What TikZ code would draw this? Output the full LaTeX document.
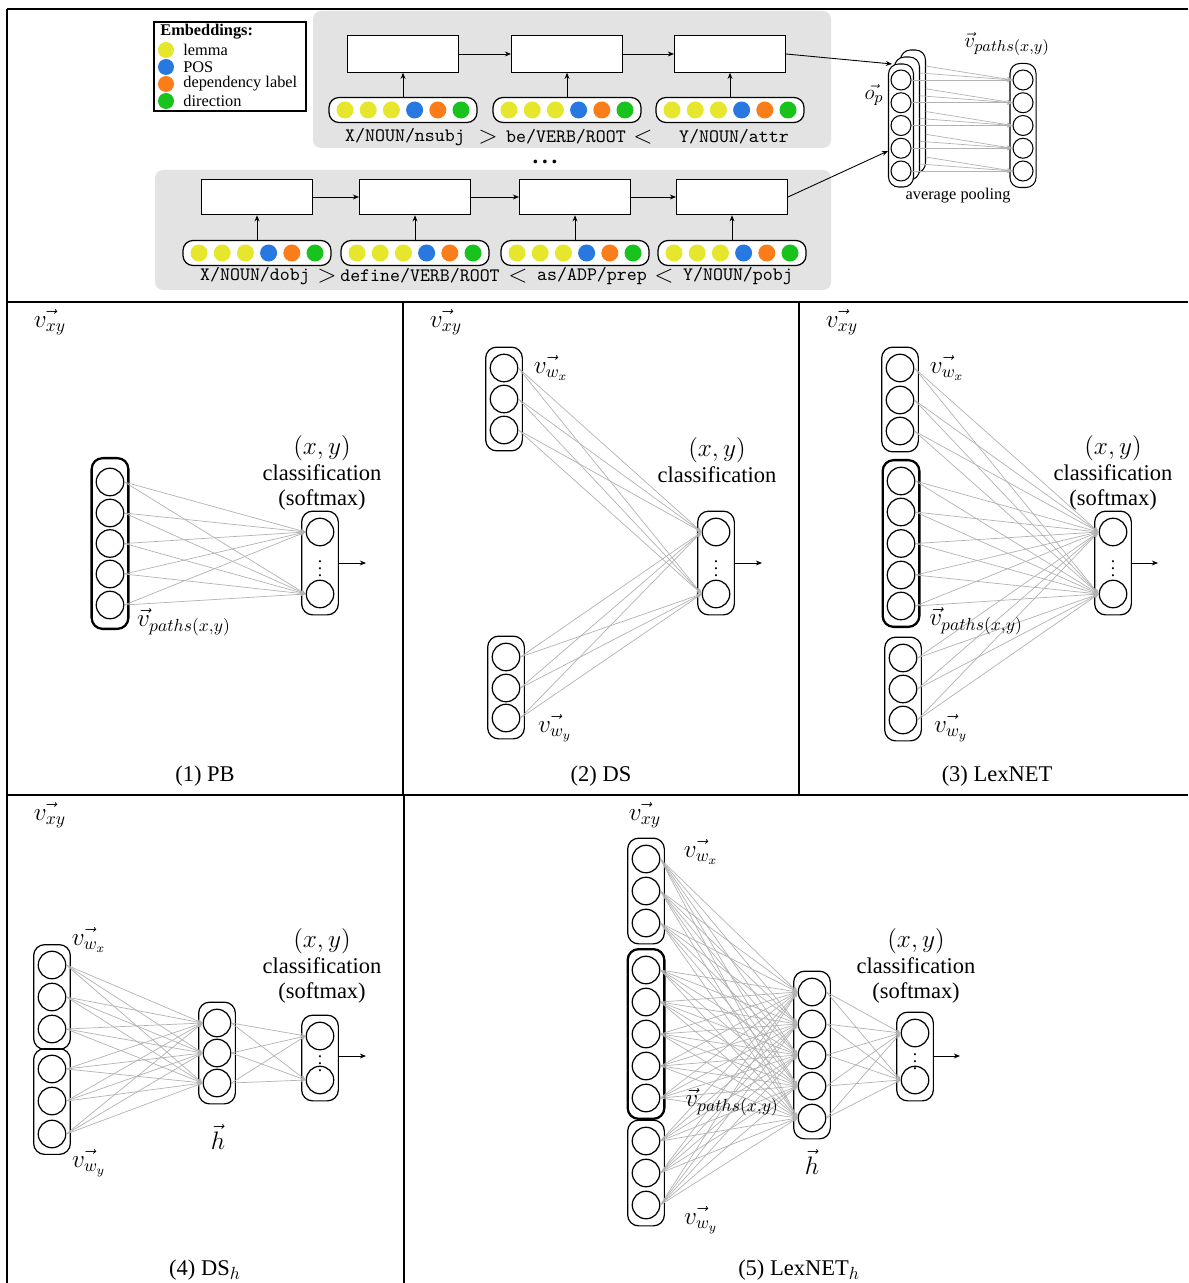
\documentclass[tikz,border=0pt]{standalone}
\usepackage{fontspec}
\setmainfont{Liberation Serif}
\usepackage{amsmath}
\usetikzlibrary{arrows.meta,positioning,fit,calc}
\definecolor{lemmac}{RGB}{230,230,45}
\definecolor{posc}{RGB}{40,120,225}
\definecolor{depc}{RGB}{250,125,25}
\definecolor{dirc}{RGB}{25,195,30}
\DeclareMathSizes{12.8}{13.8}{10.3}{7.5}
\DeclareMathSizes{11.5}{11.5}{9}{7}
\tikzset{
  neuron/.style={circle, draw, line width=0.7pt, minimum size=0.55cm, inner sep=0pt},
  poolneuron/.style={neuron, minimum size=0.4cm, line width=0.6pt},
  layerbox/.style={draw, rounded corners=0.22cm, line width=0.7pt, inner xsep=0.08cm, inner ysep=0.13cm},
  pathbox/.style={layerbox, line width=1.3pt},
  poolbox/.style={draw, fill=white, rounded corners=0.2cm, line width=0.6pt, minimum width=0.5cm, minimum height=2.46cm},
  lstmbox/.style={rectangle, draw, fill=white, line width=0.6pt, minimum width=2.22cm, minimum height=0.73cm},
  pill/.style={rectangle, draw, fill=white, rounded corners=0.2cm, line width=0.7pt, minimum width=2.96cm, minimum height=0.5cm},
  emb/.style={circle, minimum size=0.34cm, inner sep=0pt},
  legendbox/.style={draw, line width=0.6pt, minimum width=3.04cm, minimum height=1.78cm},
  seqbg/.style={fill=gray!22, rounded corners=0.16cm},
  conn/.style={draw=gray!60, line width=0.4pt, -{Stealth[length=3pt, width=2.4pt]}},
  arrow/.style={-{Stealth[length=3.5pt, width=2.8pt]}, line width=0.5pt},
  outarrow/.style={-{Stealth[length=3.5pt, width=2.8pt]}, line width=0.5pt},
  lbl/.style={font=\fontsize{12.8}{14.5}\selectfont, align=center, inner sep=1pt},
  toplbl/.style={font=\fontsize{11.5}{13}\selectfont, inner sep=1pt},
  legtxt/.style={font=\fontsize{9.3}{11}\selectfont, anchor=west, inner sep=0pt},
  tok/.style={font=\ttfamily\fontsize{10.8}{12}\selectfont, inner sep=1pt},
  dotsym/.style={font=\fontsize{10}{10}\selectfont, inner sep=0pt},
  tableline/.style={line width=0.7pt},
}
\begin{document}
\begin{tikzpicture}[x=0.02cm, y=-0.02cm]
  \useasboundingbox (0,0) rectangle (1188,1283);

  % Table rules
  \draw[tableline] (7,9) -- (1188,9);
  \draw[tableline] (7,9) -- (7,1283);
  \draw[tableline] (7,302) -- (1188,302);
  \draw[tableline] (7,795) -- (1188,795);
  \draw[tableline] (403,302) -- (403,795);
  \draw[tableline] (799,302) -- (799,795);
  \draw[tableline, line width=1.2pt] (404,795) -- (404,1283);

  % Path backgrounds
  \fill[seqbg] (313,11) rectangle (831,148);
  \fill[seqbg] (155,170) rectangle (831,290);

  % Legend
  \node[legendbox] (legend) at (230,66.5) {};
  \node[legtxt, font=\bfseries\fontsize{9.3}{11}\selectfont] (legtitle) at (160,32) {Embeddings:};
  \foreach \c/\t [count=\i] in {lemmac/lemma, posc/POS, depc/dependency label, dirc/direction} {
    \node[emb, fill=\c, minimum size=0.32cm] (legdot\i) at (166,33+17*\i) {};
    \node[legtxt] (legitem\i) at (183,33+17*\i) {\t};
  }

  % First path
  \foreach \n/\x in {1/403, 2/567, 3/730} {
    \node[lstmbox] (tbox\n) at (\x,54) {};
    \node[pill] (tpill\n) at (\x,110) {};
    \foreach \c [count=\k] in {lemmac,lemmac,lemmac,posc,depc,dirc}
      \node[emb, fill=\c] (tpill\n-\k) at (\x+23.2*\k-81.2,110) {};
    \draw[arrow] (tpill\n) -- (tbox\n);
  }
  \draw[arrow] (tbox1) -- (tbox2);
  \draw[arrow] (tbox2) -- (tbox3);
  \node[tok] (ttok1) at (405,137) {X/NOUN/nsubj};
  \node[lbl] (tsep1) at (488,137) {$>$};
  \node[tok] (ttok2) at (566,137) {be/VERB/ROOT};
  \node[lbl] (tsep2) at (643,137) {$<$};
  \node[tok] (ttok3) at (734,137) {Y/NOUN/attr};

  \node[lbl, font=\bfseries\fontsize{13}{13}\selectfont] (moredots) at (545,162) {.\,.\,.};

  % Second path
  \foreach \n/\x in {1/257, 2/415, 3/575, 4/732} {
    \node[lstmbox, minimum height=0.71cm] (bbox\n) at (\x,197) {};
    \node[pill] (bpill\n) at (\x,253) {};
    \foreach \c [count=\k] in {lemmac,lemmac,lemmac,posc,depc,dirc}
      \node[emb, fill=\c] (bpill\n-\k) at (\x+23.2*\k-81.2,253) {};
    \draw[arrow] (bpill\n) -- (bbox\n);
  }
  \draw[arrow] (bbox1) -- (bbox2);
  \draw[arrow] (bbox2) -- (bbox3);
  \draw[arrow] (bbox3) -- (bbox4);
  \node[tok] (btok1) at (255,276) {X/NOUN/dobj};
  \node[lbl] (bsep1) at (327,276) {$>$};
  \node[tok] (btok2) at (420,276) {define/VERB/ROOT};
  \node[lbl] (bsep2) at (518,276) {$<$};
  \node[tok] (btok3) at (592,276) {as/ADP/prep};
  \node[lbl] (bsep3) at (664,276) {$<$};
  \node[tok] (btok4) at (738,276) {Y/NOUN/pobj};

  % Average pooling
  \node[poolbox] (pool3) at (913,111.5) {};
  \node[poolbox] (pool2) at (907,118.5) {};
  \node[poolbox] (pool1) at (901,125.5) {};
  \foreach \i in {1,...,5} {
    \node[poolneuron] (pool-c\i) at (901,80+22.75*\i-22.75) {};
    \node[poolneuron] (vp\i) at (1023,80+22.75*\i-22.75) {};
  }
  \node[layerbox, rounded corners=0.2cm, line width=0.6pt, inner xsep=0.05cm, inner ysep=0.12cm, fit=(vp1)(vp5)] (vpbox) {};
  \foreach \i in {1,...,5} {
    \draw[conn] (pool-c\i.east) -- (vp\i.west);
    \draw[conn] ($(pool-c\i.east)+(8,-7)$) -- (vp\i.west);
    \draw[conn] ($(pool-c\i.east)+(14,-14)$) -- (vp\i.west);
  }
  \coordinate (poolin-top) at (892,64);
  \coordinate (poolin-bot) at (888,151);
  \draw[arrow] (tbox3.east) -- (poolin-top);
  \draw[arrow] (bbox4.east) -- (poolin-bot);
  \node[toplbl] (oplbl) at (874,95) {$\vec{o_p}$};
  \node[toplbl] (vplbl) at (1007,44) {$\vec{v}_{paths(x,y)}$};
  \node[legtxt, anchor=center] (poollbl) at (958,196) {average pooling};

  % (1) PB
  \node[lbl] (pb-vxy) at (50,322) {$\vec{v_{xy}}$};
  \foreach \i/\y in {1/482,2/513,3/543.5,4/574,5/605}
    \node[neuron] (pb-p\i) at (110,\y) {};
  \node[pathbox, inner ysep=0.19cm, fit=(pb-p1)(pb-p5)] (pb-P) {};
  \node[neuron] (pb-o1) at (320,532) {};
  \node[neuron] (pb-o2) at (320,594) {};
  \node[dotsym] (pb-dots) at (320,563) {$\vdots$};
  \node[layerbox, fit=(pb-o1)(pb-o2)] (pb-O) {};
  \coordinate (pb-end) at (366,563);
  \draw[outarrow] (pb-O) -- (pb-end);
  \foreach \i in {1,...,5} \foreach \j in {1,2}
    \draw[conn] (pb-p\i.east) -- (pb-o\j.west);
  \node[lbl] (pb-cls) at (322,473) {$(x,y)$\\classification\\(softmax)};
  \node[lbl] (pb-vp) at (184,622) {$\vec{v}_{paths(x,y)}$};
  \node[lbl] (pb-title) at (205,776) {(1) PB};

  % (2) DS
  \node[lbl] (ds-vxy) at (446,322) {$\vec{v_{xy}}$};
  \foreach \i/\y in {1/368,2/399,3/430}
    \node[neuron] (ds-wx\i) at (504,\y) {};
  \foreach \i/\y in {1/657,2/688,3/718}
    \node[neuron] (ds-wy\i) at (506,\y) {};
  \node[layerbox, fit=(ds-wx1)(ds-wx3)] (ds-WX) {};
  \node[layerbox, fit=(ds-wy1)(ds-wy3)] (ds-WY) {};
  \node[neuron] (ds-o1) at (716,532) {};
  \node[neuron] (ds-o2) at (716,594) {};
  \node[dotsym] (ds-dots) at (716,563) {$\vdots$};
  \node[layerbox, fit=(ds-o1)(ds-o2)] (ds-O) {};
  \coordinate (ds-end) at (762,563);
  \draw[outarrow] (ds-O) -- (ds-end);
  \foreach \g in {wx,wy} \foreach \i in {1,2,3} \foreach \j in {1,2}
    \draw[conn] (ds-\g\i.east) -- (ds-o\j.west);
  \node[lbl] (ds-cls) at (717,460) {$(x,y)$\\classification};
  \node[lbl] (ds-vwx) at (551,368) {$\vec{v_{w_x}}$};
  \node[lbl] (ds-vwy) at (555,728) {$\vec{v_{w_y}}$};
  \node[lbl] (ds-title) at (601,776) {(2) DS};

  % (3) LexNET
  \node[lbl] (lex-vxy) at (842,322) {$\vec{v_{xy}}$};
  \foreach \i/\y in {1/368,2/400,3/431}
    \node[neuron] (lex-wx\i) at (900,\y) {};
  \foreach \i/\y in {1/481,2/512,3/543.5,4/575,5/606}
    \node[neuron] (lex-p\i) at (901,\y) {};
  \foreach \i/\y in {1/658,2/689,3/720}
    \node[neuron] (lex-wy\i) at (903,\y) {};
  \node[layerbox, fit=(lex-wx1)(lex-wx3)] (lex-WX) {};
  \node[pathbox, fit=(lex-p1)(lex-p5)] (lex-P) {};
  \node[layerbox, fit=(lex-wy1)(lex-wy3)] (lex-WY) {};
  \node[neuron] (lex-o1) at (1113,532) {};
  \node[neuron] (lex-o2) at (1113,594) {};
  \node[dotsym] (lex-dots) at (1113,563) {$\vdots$};
  \node[layerbox, fit=(lex-o1)(lex-o2)] (lex-O) {};
  \coordinate (lex-end) at (1158,563);
  \draw[outarrow] (lex-O) -- (lex-end);
  \foreach \g/\n in {wx/3,p/5,wy/3} \foreach \i in {1,...,\n} \foreach \j in {1,2}
    \draw[conn] (lex-\g\i.east) -- (lex-o\j.west);
  \node[lbl] (lex-cls) at (1113,473) {$(x,y)$\\classification\\(softmax)};
  \node[lbl] (lex-vwx) at (947,368) {$\vec{v_{w_x}}$};
  \node[lbl] (lex-vp) at (976,621) {$\vec{v}_{paths(x,y)}$};
  \node[lbl] (lex-vwy) at (951,728) {$\vec{v_{w_y}}$};
  \node[lbl] (lex-title) at (997,776) {(3) LexNET};

  % (4) DS_h
  \node[lbl] (dsh-vxy) at (50,815) {$\vec{v_{xy}}$};
  \foreach \i/\y in {1/965,2/997,3/1029}
    \node[neuron] (dsh-wx\i) at (52,\y) {};
  \foreach \i/\y in {1/1069,2/1101,3/1134}
    \node[neuron] (dsh-wy\i) at (52,\y) {};
  \node[layerbox, inner ysep=0.12cm, fit=(dsh-wx1)(dsh-wx3)] (dsh-WX) {};
  \node[layerbox, inner ysep=0.12cm, fit=(dsh-wy1)(dsh-wy3)] (dsh-WY) {};
  \foreach \i/\y in {1/1023,2/1053,3/1083}
    \node[neuron] (dsh-h\i) at (217,\y) {};
  \node[layerbox, fit=(dsh-h1)(dsh-h3)] (dsh-H) {};
  \node[neuron] (dsh-o1) at (320,1036) {};
  \node[neuron] (dsh-o2) at (320,1080) {};
  \node[dotsym] (dsh-dots) at (320,1058) {$\vdots$};
  \node[layerbox, fit=(dsh-o1)(dsh-o2)] (dsh-O) {};
  \coordinate (dsh-end) at (366,1056);
  \draw[outarrow] (dsh-O.east |- dsh-end) -- (dsh-end);
  \foreach \g in {wx,wy} \foreach \i in {1,2,3} \foreach \j in {1,2,3}
    \draw[conn] (dsh-\g\i.east) -- (dsh-h\j.west);
  \foreach \i in {1,2,3} \foreach \j in {1,2}
    \draw[conn] (dsh-h\i.east) -- (dsh-o\j.west);
  \node[lbl] (dsh-cls) at (322,966) {$(x,y)$\\classification\\(softmax)};
  \node[lbl] (dsh-vwx) at (89,940) {$\vec{v_{w_x}}$};
  \node[lbl] (dsh-vwy) at (89,1163) {$\vec{v_{w_y}}$};
  \node[lbl] (dsh-vh) at (218,1137) {$\vec{h}$};
  \node[lbl] (dsh-title) at (205,1270) {(4) DS$_h$};

  % (5) LexNET_h
  \node[lbl] (lexh-vxy) at (645,815) {$\vec{v_{xy}}$};
  \foreach \i/\y in {1/859,2/891,3/923}
    \node[neuron] (lexh-wx\i) at (646,\y) {};
  \foreach \i/\y in {1/970,2/1002,3/1034,4/1066,5/1098}
    \node[neuron] (lexh-p\i) at (646,\y) {};
  \foreach \i/\y in {1/1141,2/1173,3/1205}
    \node[neuron] (lexh-wy\i) at (646,\y) {};
  \node[layerbox, fit=(lexh-wx1)(lexh-wx3)] (lexh-WX) {};
  \node[pathbox, fit=(lexh-p1)(lexh-p5)] (lexh-P) {};
  \node[layerbox, fit=(lexh-wy1)(lexh-wy3)] (lexh-WY) {};
  \foreach \i/\y in {1/992,2/1024,3/1055,4/1086,5/1118}
    \node[neuron] (lexh-h\i) at (812,\y) {};
  \node[layerbox, fit=(lexh-h1)(lexh-h5)] (lexh-H) {};
  \node[neuron] (lexh-o1) at (915,1033) {};
  \node[neuron] (lexh-o2) at (915,1080) {};
  \node[dotsym] (lexh-dots) at (915,1056) {$\vdots$};
  \node[layerbox, fit=(lexh-o1)(lexh-o2)] (lexh-O) {};
  \coordinate (lexh-end) at (960,1056);
  \draw[outarrow] (lexh-O.east |- lexh-end) -- (lexh-end);
  \foreach \g/\n in {wx/3,p/5,wy/3} \foreach \i in {1,...,\n} \foreach \j in {1,...,5}
    \draw[conn] (lexh-\g\i.east) -- (lexh-h\j.west);
  \foreach \i in {1,...,5} \foreach \j in {1,2}
    \draw[conn] (lexh-h\i.east) -- (lexh-o\j.west);
  \node[lbl] (lexh-cls) at (916,966) {$(x,y)$\\classification\\(softmax)};
  \node[lbl] (lexh-vwx) at (701,852) {$\vec{v_{w_x}}$};
  \node[lbl] (lexh-vp) at (732,1102) {$\vec{v}_{paths(x,y)}$};
  \node[lbl] (lexh-vwy) at (701,1220) {$\vec{v_{w_y}}$};
  \node[lbl] (lexh-vh) at (812,1162) {$\vec{h}$};
  \node[lbl] (lexh-title) at (799,1270) {(5) LexNET$_h$};
\end{tikzpicture}
\end{document}
